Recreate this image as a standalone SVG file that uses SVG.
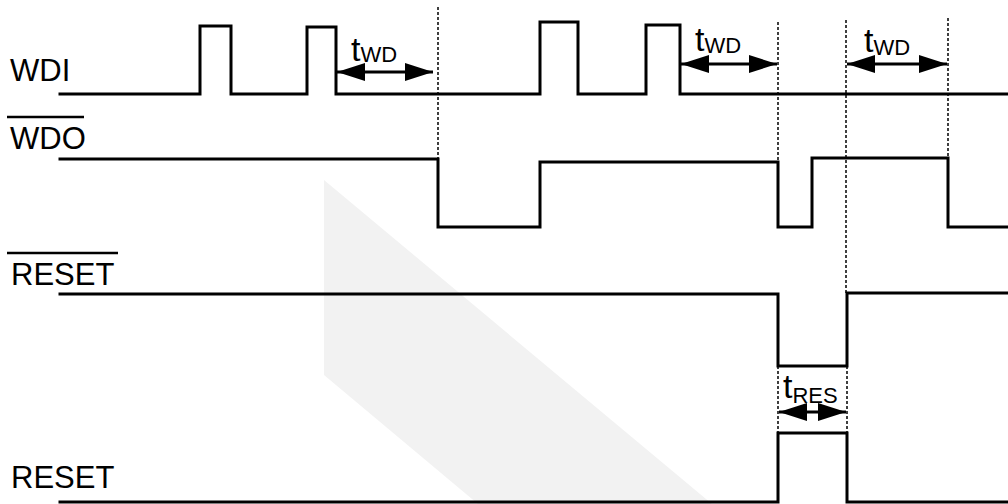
<svg xmlns="http://www.w3.org/2000/svg" width="1008" height="504" viewBox="0 0 1008 504">
<style>
.sig{fill:none;stroke:#000;stroke-width:3;stroke-linejoin:miter;stroke-linecap:square}
.dash{fill:none;stroke:#000;stroke-width:1.5;stroke-dasharray:3 2}
.arr{fill:none;stroke:#000;stroke-width:3;marker-start:url(#ah);marker-end:url(#ah)}
.lbl{font-family:"Liberation Sans",Arial,sans-serif;font-size:31px;fill:#000}
.t{font-size:34px}
.sub{font-size:22px}
.ovl{stroke:#000;stroke-width:2.5}
</style>
<defs>
<marker id="ah" viewBox="0 0 28 18" refX="28" refY="9" markerWidth="28" markerHeight="18" markerUnits="userSpaceOnUse" orient="auto-start-reverse">
<path d="M0,0 L28,9 L0,18 Z" fill="#000"/>
</marker>
</defs>
<polygon points="324,180 324,375 478,504 712,504" fill="#f2f2f2"/>
<g id="labels">
<g id="wdi-label"><text class="lbl" x="10" y="81">WDI</text></g>
<g id="wdo-label"><text class="lbl" x="10" y="149">WDO</text><line class="ovl" x1="7" y1="117" x2="84" y2="117"/></g>
<g id="resetb-label"><text class="lbl" x="11" y="285">RESET</text><line class="ovl" x1="7" y1="253" x2="118" y2="253"/></g>
<g id="reset-label"><text class="lbl" x="11" y="488">RESET</text></g>
</g>
<g id="signals">
<path id="wdi" class="sig" d="M60,94 H200 V26 H231 V94 H307 V27 H336 V94 H540 V22 H578 V94 H646 V25 H680 V94 H1010"/>
<path id="wdo" class="sig" d="M60,159 H438 V227 H540 V162 H778 V227 H812 V158 H948 V227 H1010"/>
<path id="resetb" class="sig" d="M60,294 H778 V366 H847 V293 H1010"/>
<path id="reset" class="sig" d="M60,502 H778 V433 H847 V502 H1010"/>
</g>
<g id="connectors">
<line class="dash" x1="438" y1="7" x2="438" y2="159"/>
<line class="dash" x1="778" y1="22" x2="778" y2="162"/>
<line class="dash" x1="846" y1="20" x2="846" y2="293"/>
<line class="dash" x1="948" y1="18" x2="948" y2="158"/>
<line class="dash" x1="778" y1="366" x2="778" y2="433"/>
<line class="dash" x1="847" y1="366" x2="847" y2="433"/>
<line class="arr" x1="337" y1="72" x2="433" y2="72"/>
<line class="arr" x1="681" y1="64" x2="777" y2="64"/>
<line class="arr" x1="847" y1="64" x2="947" y2="64"/>
<line class="arr" x1="779" y1="412" x2="846" y2="412"/>
</g>
<g id="timing-labels">
<text class="lbl t" x="351" y="61">t<tspan class="sub" dy="1">WD</tspan></text>
<text class="lbl t" x="695" y="51">t<tspan class="sub" dy="2">WD</tspan></text>
<text class="lbl t" x="864" y="52">t<tspan class="sub" dy="3">WD</tspan></text>
<text class="lbl t" x="783" y="398">t<tspan class="sub" dy="5">RES</tspan></text>
</g>
</svg>
